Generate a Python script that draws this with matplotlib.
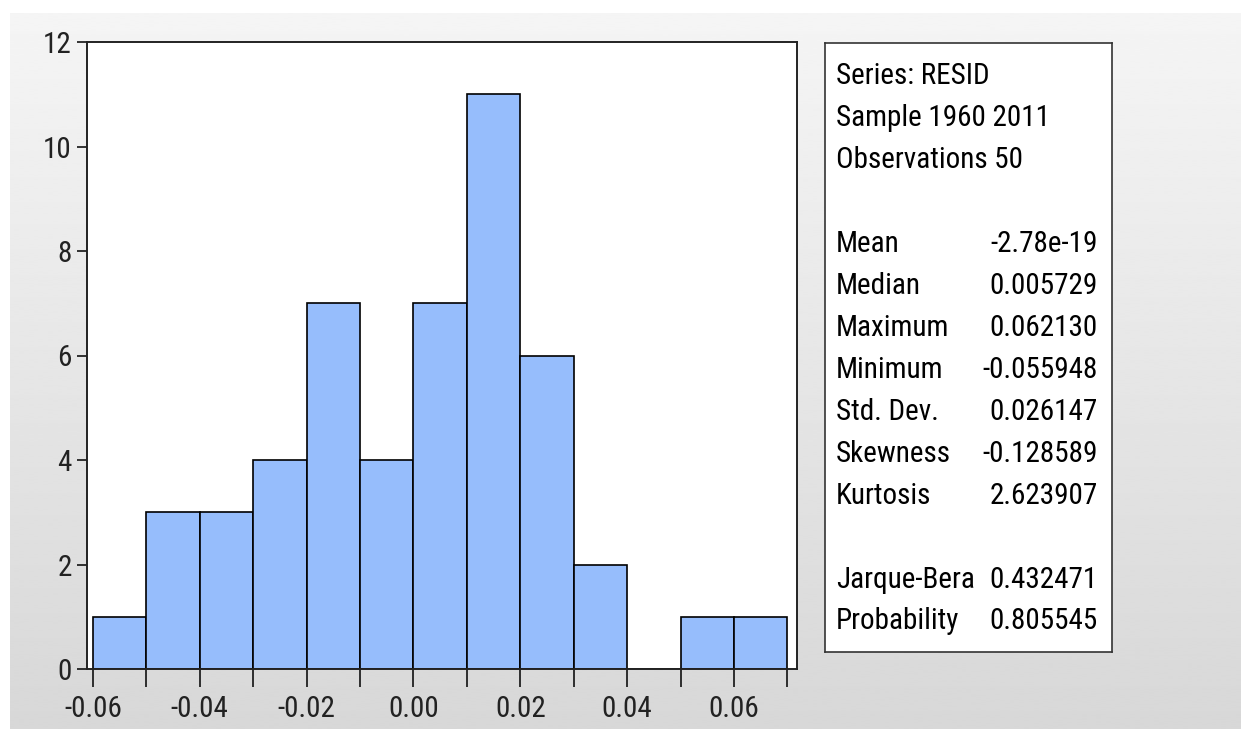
import os
import numpy as np
import matplotlib
matplotlib.use("Agg")
import matplotlib.pyplot as plt
from matplotlib import font_manager

# residual histogram, bins of width 0.01
bin_edges = [-0.06, -0.05, -0.04, -0.03, -0.02, -0.01, 0.00, 0.01, 0.02, 0.03, 0.04, 0.05, 0.06, 0.07]
counts = [1, 3, 3, 4, 7, 4, 7, 11, 6, 2, 0, 1, 1]

x_major = [-0.06, -0.04, -0.02, 0.00, 0.02, 0.04, 0.06]
x_labels = ["-0.06", "-0.04", "-0.02", "0.00", "0.02", "0.04", "0.06"]
x_minor = [-0.05, -0.03, -0.01, 0.01, 0.03, 0.05, 0.07]
y_ticks = [0, 2, 4, 6, 8, 10, 12]

header = ["Series: RESID", "Sample 1960 2011", "Observations 50"]
stat_names = ["Mean", "Median", "Maximum", "Minimum", "Std. Dev.", "Skewness", "Kurtosis"]
stat_values = ["-2.78e-19", "0.005729", "0.062130", "-0.055948", "0.026147", "-0.128589", "2.623907"]
test_names = ["Jarque-Bera", "Probability"]
test_values = ["0.432471", "0.805545"]


def pick_narrow_font():
    # look for a narrow/condensed sans face, Arial Narrow look-alike first
    wanted = ["liberationsansnarrow-regular", "arialn", "arimo-condensed",
              "robotocondensed-regular", "opensans_condensed-regular",
              "opensanscondensed-regular", "dejavusanscondensed.ttf"]
    files = {os.path.basename(f.fname).lower(): f for f in font_manager.fontManager.ttflist}
    for w in wanted:
        for name, f in files.items():
            if name.startswith(w):
                return font_manager.FontProperties(fname=f.fname), True
    for f in font_manager.fontManager.ttflist:
        if f.stretch in ("condensed", "semi-condensed") and f.style == "normal" \
                and f.weight in (400, "normal", "regular"):
            return font_manager.FontProperties(fname=f.fname), True
    return font_manager.FontProperties(family=["Liberation Sans", "DejaVu Sans"]), False


fp, narrow = pick_narrow_font()
fs = 21 if narrow else 18
fp.set_size(fs)

W, H = 1241, 729
fig = plt.figure(figsize=(W / 100, H / 100), dpi=100, facecolor="white")

# grey gradient backdrop
bg = fig.add_axes([10 / W, 0, 1 - 10 / W, (H - 13) / H])
grad = np.linspace(0.96, 0.845, 256).reshape(-1, 1)
bg.imshow(grad, aspect="auto", cmap="gray", vmin=0, vmax=1, interpolation="bilinear")
bg.axis("off")


def fig_rect(left, top, right, bottom):
    return [left / W, (H - bottom) / H, (right - left) / W, (bottom - top) / H]


ax = fig.add_axes(fig_rect(87, 42, 797, 669))
ax.set_facecolor("white")
widths = np.diff(bin_edges)
ax.bar(bin_edges[:-1], counts, width=widths, align="edge",
       color="#96bdfc", edgecolor="black", linewidth=1.2)
ax.set_xlim(-0.0611, 0.0718)
ax.set_ylim(0, 12)

ax.set_xticks(x_major)
ax.set_xticklabels(x_labels)
ax.set_xticks(x_minor, minor=True)
ax.set_yticks(y_ticks)
ax.tick_params(axis="x", which="both", direction="out", length=13, width=1.1,
               pad=6, colors="black", labelcolor="#222222")
ax.tick_params(axis="y", direction="out", length=7, width=1.1, pad=4,
               labelcolor="#222222")
for lab in ax.get_xticklabels() + ax.get_yticklabels():
    lab.set_fontproperties(fp)
for s in ax.spines.values():
    s.set_linewidth(1.4)
    s.set_color("#222222")

# statistics panel
box = fig.add_axes(fig_rect(825, 43, 1112, 652))
box.set_facecolor("white")
box.set_xticks([])
box.set_yticks([])
for s in box.spines.values():
    s.set_linewidth(1.2)
    s.set_color("#333333")
box.set_xlim(825, 1112)
box.set_ylim(652, 43)

left_x, right_x = 836, 1098
for i, t in enumerate(header):
    box.text(left_x, 76 + 42 * i, t, va="center", ha="left", color="black",
             fontproperties=fp)
for i, (n, v) in enumerate(zip(stat_names, stat_values)):
    y = 244 + 42 * i
    box.text(left_x, y, n, va="center", ha="left", color="black", fontproperties=fp)
    box.text(right_x, y, v, va="center", ha="right", color="black", fontproperties=fp)
for i, (n, v) in enumerate(zip(test_names, test_values)):
    y = 580 + 41 * i
    box.text(left_x, y, n, va="center", ha="left", color="black", fontproperties=fp)
    box.text(right_x, y, v, va="center", ha="right", color="black", fontproperties=fp)

fig.savefig("out.png", dpi=100)
